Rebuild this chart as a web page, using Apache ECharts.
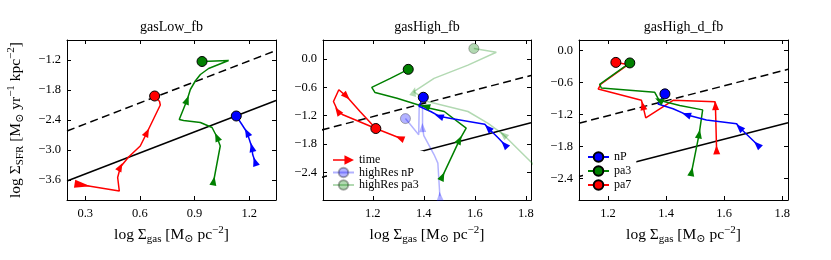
<!DOCTYPE html>
<html><head><meta charset="utf-8">
<script src="https://cdn.jsdelivr.net/npm/echarts@6/dist/echarts.min.js"></script>
<style>html,body{margin:0;padding:0;background:#fff}#c{width:831px;height:260px}</style>
</head><body><div id="c"></div>
<script>
// ---------------- DATA ----------------
const titles = ['gasLow_fb', 'gasHigh_fb', 'gasHigh_d_fb'];
const xRanges = [[0.2, 1.347], [1.005, 1.82], [1.1, 1.82]];
const yRanges = [[-4.0, -0.8], [-2.98, 0.4], [-2.8, 0.2]];
const xTicks = [[0.3, 0.6, 0.9, 1.2], [1.2, 1.4, 1.6, 1.8], [1.2, 1.4, 1.6, 1.8]];
const yTicks = [[-3.6, -3.0, -2.4, -1.8, -1.2], [-2.4, -1.8, -1.2, -0.6, 0.0], [-2.4, -1.8, -1.2, -0.6, 0.0]];

// Kennicutt-Schmidt relation (solid) and 10x (dashed), endpoints read per panel
const ksSolid = [[[0.2, -3.62], [1.347, -2.01]], [[1.0, -2.50], [1.82, -1.35]], [[1.1, -2.36], [1.82, -1.35]]];
const ksDashed = [[[0.2, -2.62], [1.347, -1.01]], [[1.0, -1.50], [1.82, -0.35]], [[1.1, -1.36], [1.82, -0.35]]];

// Panel 1 (gasLow_fb) tracks, start -> end (circle at end)
const p1Red = [[0.285,-3.70],[0.487,-3.82],[0.478,-3.55],[0.493,-3.34],[0.538,-3.14],[0.602,-2.92],[0.639,-2.65],[0.712,-2.10],[0.708,-2.03],[0.681,-1.92]];
const p1RedArrows = [0, 3, 6];
const p1Green = [[1.005,-3.62],[1.041,-2.92],[1.023,-2.74],[0.996,-2.55],[0.932,-2.45],[0.840,-2.41],[0.816,-2.39],[0.859,-2.00],[0.877,-1.79],[0.904,-1.62],[0.932,-1.49],[0.977,-1.37],[1.087,-1.21],[0.941,-1.23]];
const p1GreenArrows = [0, 2, 7];
const p1Blue = [[1.232,-3.23],[1.219,-3.09],[1.215,-2.95],[1.197,-2.75],[1.188,-2.65],[1.160,-2.49],[1.129,-2.32]];
const p1BlueArrows = [0, 2, 4];

// Panel 2 (gasHigh_fb)
const p2Red = [[1.306,-1.67],[1.212,-1.47],[1.083,-1.18],[1.063,-1.10],[1.046,-0.90],[1.067,-0.65],[1.097,-0.79],[1.150,-1.11],[1.212,-1.47]];
const p2RedArrows = [0, 3, 6];
const p2Green = [[1.473,-2.48],[1.507,-2.09],[1.540,-1.71],[1.566,-1.46],[1.480,-1.11],[1.414,-1.03],[1.407,-1.00],[1.295,-0.83],[1.209,-0.71],[1.196,-0.60],[1.269,-0.41],[1.339,-0.22]];
const p2GreenArrows = [0, 2, 6];
const p2Blue = [[1.716,-1.81],[1.692,-1.67],[1.652,-1.46],[1.639,-1.38],[1.507,-1.26],[1.460,-1.21],[1.427,-1.11],[1.381,-1.00],[1.398,-0.81]];
const p2BlueArrows = [0, 2, 5];
const p2HiResNP = [[1.463,-2.90],[1.455,-2.20],[1.440,-2.02],[1.400,-1.62],[1.395,-1.45],[1.395,-0.98],[1.382,-0.98],[1.380,-1.60],[1.328,-1.26]];
const p2HiResNPArrows = [0, 4];
const p2HiResPa3 = [[1.87,-2.50],[1.824,-2.20],[1.712,-1.60],[1.652,-1.36],[1.573,-1.11],[1.414,-0.90],[1.361,-0.69],[1.440,-0.41],[1.573,-0.13],[1.684,0.14],[1.596,0.22]];
const p2HiResPa3Arrows = [2, 6];

// Panel 3 (gasHigh_d_fb)
const p3Red = [[1.574,-1.86],[1.570,-1.03],[1.568,-0.96],[1.424,-0.93],[1.330,-1.26],[1.320,-1.03],[1.315,-0.93],[1.166,-0.72],[1.175,-0.63],[1.269,-0.26],[1.227,-0.22]];
const p3RedArrows = [0, 1, 5];
const p3Green = [[1.488,-2.27],[1.514,-1.56],[1.526,-1.11],[1.447,-1.03],[1.376,-0.93],[1.361,-0.78],[1.177,-0.70],[1.171,-0.63],[1.275,-0.23]];
const p3GreenArrows = [0, 1, 4];
const p3Blue = [[1.714,-1.76],[1.653,-1.44],[1.643,-1.37],[1.539,-1.30],[1.470,-1.20],[1.424,-1.09],[1.372,-1.00],[1.396,-0.81]];
const p3BlueArrows = [0, 1, 4];

const legend2Names = ['time', 'highRes nP', 'highRes pa3'];
const legend3Names = ['nP', 'pa3', 'pa7'];

// ---------------- CHART ----------------
const FONT = '"Liberation Serif", "DejaVu Serif", serif';
const RED = '#ff0000', GREEN = '#008000', BLUE = '#0000ff';
const LBLUE = 'rgba(0,0,255,0.3)', LGREEN = 'rgba(0,128,0,0.3)';
const chart = echarts.init(document.getElementById('c'));

const gridBoxes = [
  {left: 67, top: 40, width: 209, height: 160},
  {left: 323, top: 40, width: 208, height: 160},
  {left: 579, top: 40, width: 209, height: 160}
];
const fmt = v => (v < -1e-9 ? '\u2212' : '') + Math.abs(v).toFixed(1);
const nameRich = {
  n: {fontFamily: FONT, fontSize: 15.5, lineHeight: 20, color: '#000', verticalAlign: 'middle'},
  sub: {fontFamily: FONT, fontSize: 11, lineHeight: 11, color: '#000', verticalAlign: 'bottom'},
  sup: {fontFamily: FONT, fontSize: 11, lineHeight: 11, color: '#000', verticalAlign: 'top'}
};
const xName = '{n|log \u03A3}{sub|gas}{n| [M}{sub|\u2299}{n| pc}{sup|\u22122}{n|]}';
const yName = '{n|log \u03A3}{sub|SFR}{n| [M}{sub|\u2299}{n| yr}{sup|\u22121}{n| kpc}{sup|\u22122}{n|]}';

const xAxes = [], yAxes = [];
for (let i = 0; i < 3; i++) {
  const tickBase = {show: true, inside: true, length: 4, lineStyle: {color: '#000', width: 1}};
  const lineBase = {show: true, onZero: false, lineStyle: {color: '#000', width: 1}};
  const lab = {fontFamily: FONT, fontSize: 12.5, color: '#000', formatter: fmt};
  xAxes.push({type: 'value', gridIndex: i, position: 'bottom', min: xRanges[i][0], max: xRanges[i][1],
    axisLine: lineBase, splitLine: {show: false},
    axisTick: Object.assign({customValues: xTicks[i]}, tickBase),
    axisLabel: Object.assign({customValues: xTicks[i], margin: 7}, lab),
    name: xName, nameLocation: 'middle', nameGap: 23, nameTextStyle: {rich: nameRich}});
  xAxes.push({type: 'value', gridIndex: i, position: 'top', min: xRanges[i][0], max: xRanges[i][1],
    axisLine: lineBase, splitLine: {show: false},
    axisTick: Object.assign({customValues: xTicks[i]}, tickBase), axisLabel: {show: false}});
  const yl = {type: 'value', gridIndex: i, position: 'left', min: yRanges[i][0], max: yRanges[i][1],
    axisLine: lineBase, splitLine: {show: false},
    axisTick: Object.assign({customValues: yTicks[i]}, tickBase),
    axisLabel: Object.assign({customValues: yTicks[i], margin: 6}, lab)};
  if (i === 0) Object.assign(yl, {name: yName, nameLocation: 'middle', nameGap: 41, nameRotate: 90, nameTextStyle: {rich: nameRich}});
  yAxes.push(yl);
  yAxes.push({type: 'value', gridIndex: i, position: 'right', min: yRanges[i][0], max: yRanges[i][1],
    axisLine: lineBase, splitLine: {show: false},
    axisTick: Object.assign({customValues: yTicks[i]}, tickBase), axisLabel: {show: false}});
}

const titleOpts = titles.map((t, i) => ({
  text: t, left: gridBoxes[i].left + gridBoxes[i].width / 2, top: 20, textAlign: 'center', padding: 0,
  textStyle: {fontFamily: FONT, fontSize: 14, fontWeight: 'normal', color: '#000'}
}));

const baseOption = {
  animation: false,
  backgroundColor: '#fff',
  title: titleOpts,
  grid: gridBoxes,
  xAxis: xAxes,
  yAxis: yAxes
};
chart.setOption(baseOption);

function toPx(i, p) { return chart.convertToPixel({xAxisIndex: 2 * i, yAxisIndex: 2 * i}, p); }

function trackSeries(i, name, pts, arrows, color, edge, bigStart) {
  const data = pts.map((p, k) => {
    const last = k === pts.length - 1;
    if (last) return {value: p, symbol: 'circle', symbolSize: 10};
    if (arrows.indexOf(k) >= 0) {
      const a = toPx(i, k === 0 ? p : pts[k - 1]);
      const b = toPx(i, pts[k + 1]);
      const ang = Math.atan2(-(b[1] - a[1]), b[0] - a[0]) * 180 / Math.PI - 90;
      const size = (bigStart && k === 0) ? [8, 16] : [7, 9];
      return {value: p, symbol: 'triangle', symbolSize: size, symbolRotate: ang, itemStyle: {borderWidth: 0}};
    }
    return {value: p, symbol: 'none'};
  });
  return {
    type: 'line', name: name, xAxisIndex: 2 * i, yAxisIndex: 2 * i, data: data,
    symbol: 'circle', symbolSize: 10, showSymbol: true, showAllSymbol: true, silent: true,
    clip: true, z: 3,
    lineStyle: {color: color, width: 1.5},
    itemStyle: {color: color, borderColor: edge, borderWidth: 1, opacity: 1}
  };
}
function refLine(i, pts, dashed) {
  return {type: 'line', xAxisIndex: 2 * i, yAxisIndex: 2 * i, data: pts, symbol: 'none', silent: true, z: 2,
    lineStyle: {color: '#000', width: 1.5, type: dashed ? [8, 4.5] : 'solid'}};
}

const series = [];
for (let i = 0; i < 3; i++) { series.push(refLine(i, ksSolid[i], false)); series.push(refLine(i, ksDashed[i], true)); }
series.push(trackSeries(0, 'pa7', p1Red, p1RedArrows, RED, '#000', true));
series.push(trackSeries(0, 'pa3', p1Green, p1GreenArrows, GREEN, '#000'));
series.push(trackSeries(0, 'nP', p1Blue, p1BlueArrows, BLUE, '#000'));
series.push(trackSeries(1, 'highRes nP', p2HiResNP, p2HiResNPArrows, LBLUE, 'rgba(0,0,0,0.3)'));
series.push(trackSeries(1, 'highRes pa3', p2HiResPa3, p2HiResPa3Arrows, LGREEN, 'rgba(0,0,0,0.3)'));
series.push(trackSeries(1, 'pa7', p2Red, p2RedArrows, RED, '#000'));
series.push(trackSeries(1, 'pa3', p2Green, p2GreenArrows, GREEN, '#000'));
series.push(trackSeries(1, 'nP', p2Blue, p2BlueArrows, BLUE, '#000'));
series.push(trackSeries(2, 'pa7', p3Red, p3RedArrows, RED, '#000'));
series.push(trackSeries(2, 'pa3', p3Green, p3GreenArrows, GREEN, '#000'));
series.push(trackSeries(2, 'nP', p3Blue, p3BlueArrows, BLUE, '#000'));
series.push({type: 'line', name: 'time', xAxisIndex: 2, yAxisIndex: 2, data: [], symbol: 'none',
  lineStyle: {color: RED, width: 1.5}, itemStyle: {color: RED, borderWidth: 0}});

const legText = {fontFamily: FONT, fontSize: 12, color: '#000'};
const timeIcon = 'path://M0,4.2 L12,4.2 L12,0 L22,5 L12,10 L12,5.8 L0,5.8 Z';
chart.setOption({
  legend: [
    {data: [{name: legend2Names[0], icon: timeIcon}, legend2Names[1], legend2Names[2]],
     orient: 'vertical', left: 327, top: 151, itemWidth: 21, itemHeight: 12, itemGap: 0.5,
     padding: [3, 5, 3, 5], backgroundColor: '#fff', selectedMode: false, textStyle: legText},
    {data: legend3Names, orient: 'vertical', left: 583, top: 147, itemWidth: 21, itemHeight: 12, itemGap: 2,
     padding: [4, 5, 3, 4], backgroundColor: '#fff', selectedMode: false, textStyle: legText}
  ],
  series: series
});
</script></body></html>
